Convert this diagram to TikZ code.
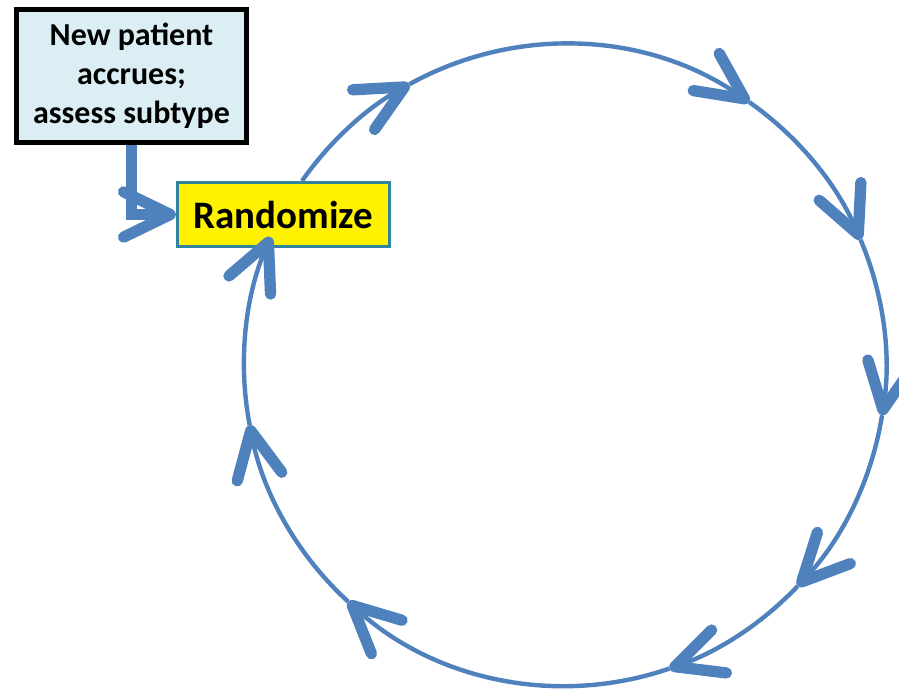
\documentclass[tikz,border=0pt]{standalone}
\usepackage{fontspec}
\setmainfont{Carlito}
\usetikzlibrary{arrows.meta,calc}
\definecolor{flowblue}{HTML}{4F81BD}
\definecolor{paleaqua}{HTML}{DBEEF4}
\definecolor{tealedge}{HTML}{31849B}
\begin{document}
\begin{tikzpicture}[x=0.75pt,y=0.75pt,
  barbtip/.tip={Straight Barb[length=35pt,width=34pt,line width=8.5pt 0,round]},
  cyclearc/.style={draw=flowblue,line width=3.3pt,-barbtip},
  feed/.style={draw=flowblue,line width=7.8pt,-barbtip},
  patientbox/.style={draw=black,fill=paleaqua,line width=3.75pt,
    minimum width=172.5pt,minimum height=99.75pt,inner sep=0pt,align=center,
    font=\bfseries\fontsize{24}{29.2}\selectfont},
  randbox/.style={draw=tealedge,fill=yellow,line width=2.4pt,
    minimum width=159pt,minimum height=48pt,inner sep=0pt,
    font=\bfseries\fontsize{29.2}{34}\selectfont}]
\useasboundingbox (0,0) rectangle (899,690);
\coordinate (c) at (565,325);
\def\R{321}
% boxes
\node[patientbox] (patient) at (131.5,614) {New patient\\accrues;\\assess subtype};
\node[randbox] (rand) at (283.5,475.5) {Randomize};
% feed into the randomization step
\draw[feed] (patient.south) |- (rand.west);
% the cycle, drawn clockwise in arrowed segments
\foreach \a/\b in {145/119, 119/55, 55/23, 23/-9, -9/-43.5, -43.5/-71,
                   -71/-132.5, -132.5/-169.2, -169.2/-203.5}
  \draw[cyclearc] ($(c)+(\a:\R)$) arc[start angle=\a,end angle=\b,radius=\R];
\end{tikzpicture}
\end{document}
